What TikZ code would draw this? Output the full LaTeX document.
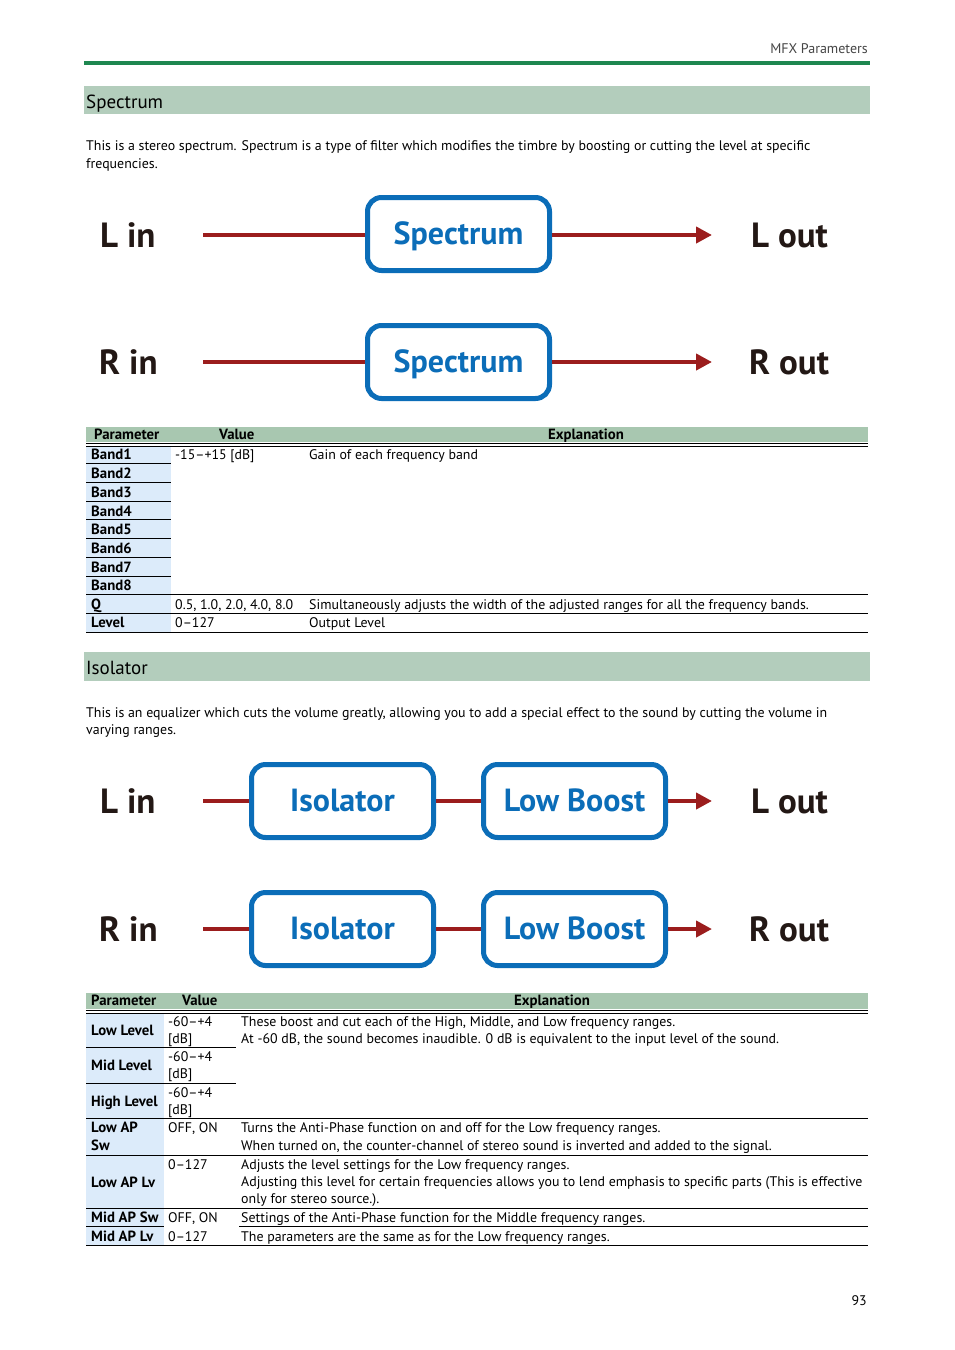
\documentclass[tikz,border=0pt]{standalone}
\usepackage{fontspec}
\setmainfont{PT Sans}
\usetikzlibrary{arrows.meta}
\definecolor{txt}{RGB}{35,24,21}
\definecolor{rulegreen}{RGB}{30,135,80}
\definecolor{secbar}{RGB}{179,205,188}
\definecolor{thead}{RGB}{168,199,176}
\definecolor{pcol}{RGB}{220,235,250}
\definecolor{fxblue}{RGB}{11,109,184}
\definecolor{sigred}{RGB}{155,29,29}
\definecolor{hdrgray}{RGB}{70,70,70}
\tikzset{
  body/.style={anchor=mid west, inner sep=0pt, yshift=-2.5pt, text=black, font=\fontsize{13.9}{16}\selectfont},
  bodyb/.style={body, font=\fontsize{14.8}{16}\selectfont\bfseries},
  thtext/.style={anchor=mid west, inner sep=0pt, yshift=-2pt, text=black, font=\fontsize{14.8}{16}\selectfont\bfseries},
  sectitle/.style={anchor=mid west, inner sep=0pt, yshift=-4.5pt, text=black, font=\fontsize{19}{21}\selectfont},
  iolabel/.style={anchor=base west, inner sep=0pt, text=txt, font=\fontsize{35}{38}\selectfont\bfseries},
  fxbox/.style={draw=fxblue, line width=5pt, rounded corners=14pt, minimum width=182pt, minimum height=73pt, inner sep=0pt, text height=21pt, text depth=0pt, text=fxblue, font=\fontsize{32}{34}\selectfont\bfseries},
  sig/.style={draw=sigred, line width=4pt},
  sigarrow/.style={sig, -{Triangle[length=16pt,width=16pt]}},
  trule/.style={draw=black, line width=0.9pt},
}
\begin{document}
\begin{tikzpicture}[x=1pt,y=-1pt]
\useasboundingbox[fill=white] (0,0) rectangle (954,1350);

% header
\node[anchor=mid east, inner sep=0pt, yshift=-3pt, text=hdrgray, font=\fontsize{14}{16}\selectfont] (hdr) at (868,48) {MFX Parameters};
\fill[rulegreen] (84,61) rectangle (870,64.5);

% ---------- Spectrum section
\fill[secbar] (84,86) rectangle (870,114);
\node[sectitle] (s1title) at (86,101) {Spectrum};
\node[body] (s1p1) at (86,145) {This is a stereo spectrum. Spectrum is a type of filter which modifies the timbre by boosting or cutting the level at specific};
\node[body] (s1p2) at (86,163) {frequencies.};

% diagram 1
\node[iolabel] (lin1) at (100,247) {L in};
\node[iolabel] (rin1) at (99,374) {R in};
\node[iolabel] (lout1) at (751,247) {L out};
\node[iolabel] (rout1) at (749,374) {R out};
\node[fxbox] (spL) at (458.5,234) {Spectrum};
\node[fxbox] (spR) at (458.5,362) {Spectrum};
\coordinate (aL1) at (203,235);
\coordinate (bL1) at (712,235);
\coordinate (aR1) at (203,362);
\coordinate (bR1) at (712,362);
\draw[sig] (aL1) -- (spL.west |- aL1);
\draw[sigarrow] (spL.east |- aL1) -- (bL1);
\draw[sig] (aR1) -- (spR.west |- aR1);
\draw[sigarrow] (spR.east |- aR1) -- (bR1);

% table 1
\fill[thead] (86,427) rectangle (868,442);
\node[thtext] (t1h1) at (94,434.5) {Parameter};
\node[thtext] (t1h2) at (219,434.5) {Value};
\node[thtext, anchor=mid] (t1h3) at (586,434.5) {Explanation};
\draw[trule, line width=0.8pt] (86,443.3) -- (868,443.3);
\draw[trule, line width=0.8pt] (86,445.9) -- (868,445.9);
\fill[pcol] (86,446.5) rectangle (171,632);
\foreach \n/\y in {1/454,2/473,3/492,4/511,5/529,6/548,7/567,8/585}{
  \node[bodyb] (band\n) at (91,\y) {Band\n};
}
\foreach \y in {463.5,482.3,501,519.8,538.5,557.3,576}{
  \draw[trule] (86,\y) -- (171,\y);
}
\node[bodyb] (q) at (91,604) {Q};
\node[bodyb] (lev) at (91,622) {Level};
\node[body] (v1) at (175,454) {-15--+15 [dB]};
\node[body] (v2) at (175,604) {0.5, 1.0, 2.0, 4.0, 8.0};
\node[body] (v3) at (175,622) {0--127};
\node[body] (e1) at (309,454) {Gain of each frequency band};
\node[body] (e2) at (309,604) {Simultaneously adjusts the width of the adjusted ranges for all the frequency bands.};
\node[body] (e3) at (309,622) {Output Level};
\foreach \y in {594.8,613.5,632.3}{
  \draw[trule] (86,\y) -- (868,\y);
}

% ---------- Isolator section
\fill[secbar] (84,652) rectangle (870,681);
\node[sectitle] (s2title) at (86,667) {Isolator};
\node[body] (s2p1) at (86,712) {This is an equalizer which cuts the volume greatly, allowing you to add a special effect to the sound by cutting the volume in};
\node[body] (s2p2) at (86,729) {varying ranges.};

% diagram 2
\node[iolabel] (lin2) at (100,813) {L in};
\node[iolabel] (rin2) at (99,941) {R in};
\node[iolabel] (lout2) at (751,813) {L out};
\node[iolabel] (rout2) at (749,941) {R out};
\node[fxbox] (isoL) at (342.5,801) {Isolator};
\node[fxbox] (lbL) at (574.5,801) {Low Boost};
\node[fxbox] (isoR) at (342.5,929) {Isolator};
\node[fxbox] (lbR) at (574.5,929) {Low Boost};
\coordinate (aL2) at (203,801);
\coordinate (bL2) at (712,801);
\coordinate (aR2) at (203,929);
\coordinate (bR2) at (712,929);
\draw[sig] (aL2) -- (isoL.west |- aL2);
\draw[sig] (isoL.east |- aL2) -- (lbL.west |- aL2);
\draw[sigarrow] (lbL.east |- aL2) -- (bL2);
\draw[sig] (aR2) -- (isoR.west |- aR2);
\draw[sig] (isoR.east |- aR2) -- (lbR.west |- aR2);
\draw[sigarrow] (lbR.east |- aR2) -- (bR2);

% table 2
\fill[thead] (86,993) rectangle (868,1009);
\node[thtext] (t2h1) at (91,1001) {Parameter};
\node[thtext] (t2h2) at (182,1001) {Value};
\node[thtext, anchor=mid] (t2h3) at (552,1001) {Explanation};
\draw[trule, line width=0.8pt] (86,1010.3) -- (868,1010.3);
\draw[trule, line width=0.8pt] (86,1012.9) -- (868,1012.9);
\fill[pcol] (86,1013.5) rectangle (164,1245);

\node[bodyb] (p1) at (91,1030) {Low Level};
\node[body] (p1v1) at (168,1021) {-60--+4};
\node[body] (p1v2) at (168,1038) {[dB]};
\node[body] (p1e1) at (241,1021) {These boost and cut each of the High, Middle, and Low frequency ranges.};
\node[body] (p1e2) at (241,1038) {At -60 dB, the sound becomes inaudible. 0 dB is equivalent to the input level of the sound.};
\draw[trule] (86,1047) -- (236,1047);

\node[bodyb] (p2) at (91,1065) {Mid Level};
\node[body] (p2v1) at (168,1056) {-60--+4};
\node[body] (p2v2) at (168,1073) {[dB]};
\draw[trule] (86,1083) -- (236,1083);

\node[bodyb] (p3) at (91,1101) {High Level};
\node[body] (p3v1) at (168,1092) {-60--+4};
\node[body] (p3v2) at (168,1109) {[dB]};
\draw[trule] (86,1118) -- (868,1118);

\node[bodyb] (p4a) at (91,1127) {Low AP};
\node[bodyb] (p4b) at (91,1145) {Sw};
\node[body] (p4v) at (168,1127) {OFF, ON};
\node[body] (p4e1) at (241,1127) {Turns the Anti-Phase function on and off for the Low frequency ranges.};
\node[body] (p4e2) at (241,1145) {When turned on, the counter-channel of stereo sound is inverted and added to the signal.};
\draw[trule] (86,1155) -- (868,1155);

\node[bodyb] (p5) at (91,1182) {Low AP Lv};
\node[body] (p5v) at (168,1164) {0--127};
\node[body] (p5e1) at (241,1164) {Adjusts the level settings for the Low frequency ranges.};
\node[body] (p5e2) at (241,1181) {Adjusting this level for certain frequencies allows you to lend emphasis to specific parts (This is effective};
\node[body] (p5e3) at (241,1198) {only for stereo source.).};
\draw[trule] (86,1208) -- (868,1208);

\node[bodyb] (p6) at (91,1217) {Mid AP Sw};
\node[body] (p6v) at (168,1217) {OFF, ON};
\node[body] (p6e) at (241,1217) {Settings of the Anti-Phase function for the Middle frequency ranges.};
\draw[trule] (86,1226.5) -- (164,1226.5);
\draw[trule] (239,1226.5) -- (868,1226.5);

\node[bodyb] (p7) at (91,1236) {Mid AP Lv};
\node[body] (p7v) at (168,1236) {0--127};
\node[body] (p7e) at (241,1236) {The parameters are the same as for the Low frequency ranges.};
\draw[trule] (86,1245.5) -- (868,1245.5);

% page number
\node[body, anchor=mid east] (pg) at (867,1300) {93};
\end{tikzpicture}
\end{document}
